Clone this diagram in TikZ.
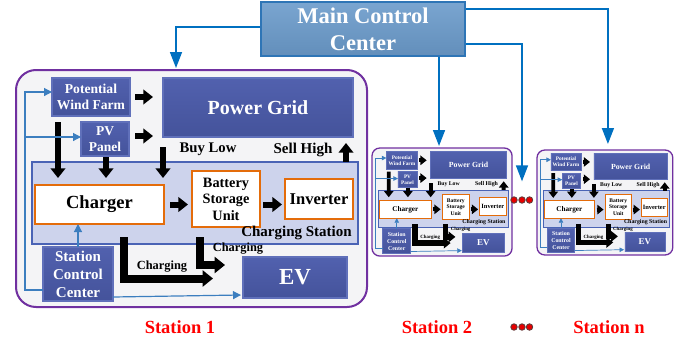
\documentclass[tikz,border=0pt]{standalone}
\usepackage{fontspec}
\setmainfont{Liberation Serif}
\usetikzlibrary{arrows.meta,calc}
\definecolor{boxblue}{RGB}{76,92,172}
\definecolor{boxblueedge}{RGB}{96,112,186}
\definecolor{mccfill}{RGB}{107,155,203}
\definecolor{mccedge}{RGB}{46,117,182}
\definecolor{csfill}{RGB}{205,211,236}
\definecolor{csedge}{RGB}{74,99,181}
\definecolor{orangeedge}{RGB}{228,108,10}
\definecolor{stpurple}{RGB}{112,48,160}
\definecolor{outerfill}{RGB}{244,244,246}
\definecolor{thinblue}{RGB}{60,126,191}
\definecolor{mccline}{RGB}{0,112,192}
\definecolor{dotred}{RGB}{230,0,0}
\definecolor{dotedge}{RGB}{90,60,60}
\newcommand\tsz[2]{\fontsize{#1}{#2}\selectfont\bfseries}
\newcommand\stbox[8]{%
  \pgfmathsetmacro\stw{(#5-#3)*\stxs}%
  \pgfmathsetmacro\sth{(#6-#4)*\stys}%
  \node[#1,minimum width=\stw pt,minimum height=\sth pt,inner sep=0pt,outer sep=0pt] (#2) at ({(#3+#5)/2},{(#4+#6)/2}) {};
  \node[#7,scale=\stfs,align=center,inner sep=0pt] (#2-t) at (#2.center) {#8};
}
\newcommand\drawstation[7]{%
\begin{scope}[shift={(#2,#3)},xscale=#4,yscale=#5,shift={(-16,-70)}]
  \def\stxs{#4}\def\stys{#5}\def\stfs{#6}%
  \pgfmathsetmacro\stls{#7}%
  \pgfmathsetmacro\strc{20*#6}%
  \pgfmathsetmacro\stol{max(2*#6,1.3)}%
  \pgfmathsetmacro\stbw{max(1.2*#6,0.7)}%
  \pgfmathsetmacro\stta{max(8*#6,4.5)}%
  \stbox{outerbox}{#1}{16}{70}{367}{307}{}{}
  \stbox{bluebox}{#1-wind}{52}{78}{130}{116}{wt,font=\tsz{13.6}{15.6}}{Potential\\Wind Farm}
  \stbox{bluebox}{#1-grid}{163}{78}{353}{137}{wt,font=\tsz{20}{24}}{Power Grid}
  \stbox{bluebox}{#1-pv}{81}{122}{129}{156}{wt,font=\tsz{13.5}{16}}{PV\\Panel}
  \stbox{csbox}{#1-cs}{32}{162}{358}{244}{}{}
  \stbox{orbox}{#1-chg}{35}{185}{164}{224}{bt,font=\tsz{18.5}{22}}{Charger}
  \stbox{orbox}{#1-bat}{192}{171}{260}{227}{bt,font=\tsz{14.3}{16.5}}{Battery\\Storage\\Unit}
  \stbox{orbox}{#1-inv}{285}{179}{353}{219}{bt,font=\tsz{16.5}{19}}{Inverter}
  \stbox{bluebox}{#1-scc}{43}{247}{113}{301}{wt,font=\tsz{15}{18}}{Station\\Control\\Center}
  \stbox{bluebox}{#1-ev}{243}{257}{347}{298}{wt,font=\tsz{23}{26}}{EV}
  \node[lbl,font=\tsz{14.7}{17}] (#1-buy) at (208,149) {Buy Low};
  \node[lbl,font=\tsz{15}{17}] (#1-sell) at (303,150) {Sell High};
  \node[lbl,font=\tsz{15}{17}] (#1-cst) at (296.5,233) {Charging Station};
  \node[lbl,font=\tsz{12.4}{14}] (#1-ch1) at (162,267) {Charging};
  \node[lbl,font=\tsz{12.4}{14}] (#1-ch2) at (238,249) {Charging};
  % thick black power flows
  \draw[blk] ($(#1-wind.east)+(5,0)$) -- ($(#1-grid.west |- #1-wind.east)+(-10,0)$);
  \draw[blk] ($(#1-pv.east)+(6,-3)$) -- ($(#1-grid.west |- #1-pv.east)+(-10,-3)$);
  \draw[blk] ($(#1-wind.south west)+(6,6)$) -- ($(#1-chg.north west)+(23,-7)$);
  \draw[blk] ($(#1-pv.south)+(1,1)$) -- ($(#1-pv.south |- #1-chg.north)+(1,-7)$);
  \draw[blk] ($(#1-grid.south west)+(0,10)$) -- ($(#1-grid.south west |- #1-chg.north)+(0,-7)$);
  \draw[blk] ($(#1-cs.north east)+(-12,0)$) -- ($(#1-grid.south east)+(-7,6)$);
  \draw[blk] ($(#1-chg.east)+(6,0)$) -- ($(#1-bat.west |- #1-chg.east)+(-4,0)$);
  \draw[blk] ($(#1-bat.east |- #1-chg.east)+(3,0)$) -- ($(#1-inv.west |- #1-chg.east)+(-3,0)$);
  \draw[blkL] ($(#1-chg.south west)+(89,13)$) |- ($(#1-ev.west)+(-30,1)$);
  \draw[blkL] ($(#1-bat.south west)+(8,10)$) |- ($(#1-ev.north west)+(-18,8)$);
  % thin blue control lines
  \draw[bl] ($(#1-scc.south west)+(0,-11)$) -| ($(#1-wind.west)+(-27,-5)$) -- ($(#1-wind.west)+(0,-5)$);
  \draw[bl] ($(#1-pv.west)+(-56,-2)$) -- ($(#1-pv.west)+(0,-2)$);
  \draw[bl] (#1-scc.north) -- (#1-scc.north |- #1-chg.south);
  \draw[bl] ($(#1-scc.south east)+(0,-4)$) -- ($(#1-ev.south west)+(-2,-3)$);
\end{scope}}
\begin{document}
\begin{tikzpicture}[x=1pt,y=-1pt,
  outerbox/.style={draw=stpurple,fill=outerfill,line width=\stol pt,rounded corners=\strc pt},
  bluebox/.style={draw=boxblueedge,line width=\stbw pt,top color=boxblue!97!white,bottom color=boxblue!90!black},
  csbox/.style={draw=csedge,fill=csfill,line width=\stbw pt},
  orbox/.style={draw=orangeedge,fill=white,line width={max(2.5*\stfs,1)*1pt}},
  wt/.style={text=white},
  bt/.style={text=black},
  lbl/.style={inner sep=0pt,scale=\stfs,text=black},
  blk/.style={draw=black,line width=\stls*6pt,-{Triangle[length=0pt 1.6,width=0pt 2.4]}},
  blkL/.style={draw=black,line width=\stls*8pt,line join=miter,-{Triangle[length=0pt 1.3,width=0pt 2]}},
  bl/.style={draw=thinblue,line width=\stbw pt,-{Triangle[length=\stta pt,width=\stta pt]}},
  mcca/.style={draw=mccline,line width=1.6pt,-{Triangle[length=16pt,width=12pt]}},
  reddot/.style={circle,fill=dotred,draw=dotedge,line width=0.8pt,minimum size=6.5pt,inner sep=0pt},
  stlabel/.style={text=red,font=\tsz{18.5}{22}}]
\useasboundingbox (0,0) rectangle (688,343);
\drawstation{s1}{16}{70}{1}{1}{1}{1}
\drawstation{s2}{372}{148}{0.399}{0.456}{0.39}{0.65}
\drawstation{sn}{537}{150}{0.387}{0.443}{0.39}{0.65}
\node[draw=mccedge,line width=1.5pt,top color=mccfill!90!white,bottom color=mccfill!92!black,
  minimum width=204pt,minimum height=54pt,inner sep=0pt,text=white,align=center,
  font=\tsz{22.5}{27}] (mcc) at (363,29) {Main Control\\Center};
\node[reddot] (dot1) at (514,200) {};
\node[reddot] (dot2) at (522,200) {};
\node[reddot] (dot3) at (529.5,200) {};
\draw[mcca] ($(mcc.west)+(0,-2)$) -| ($(s1.north west)+(160,-2)$);
\draw[mcca] ($(mcc.south)+(76,0)$) -- ($(s2.north)+(-3,-2)$);
\draw[mcca] ($(mcc.south east)+(0,-13)$) -| ($(dot2.north)+(0,-15)$);
\draw[mcca] ($(mcc.north east)+(0,8)$) -| ($(sn.north)+(3,-6)$);
\node[stlabel] (l1) at (180,327) {Station 1};
\node[stlabel] (l2) at (437,327) {Station 2};
\node[reddot] (bd1) at (514,327) {};
\node[reddot] (bd2) at (522,327) {};
\node[reddot] (bd3) at (529.5,327) {};
\node[stlabel] (ln) at (609,327) {Station n};
\end{tikzpicture}
\end{document}
